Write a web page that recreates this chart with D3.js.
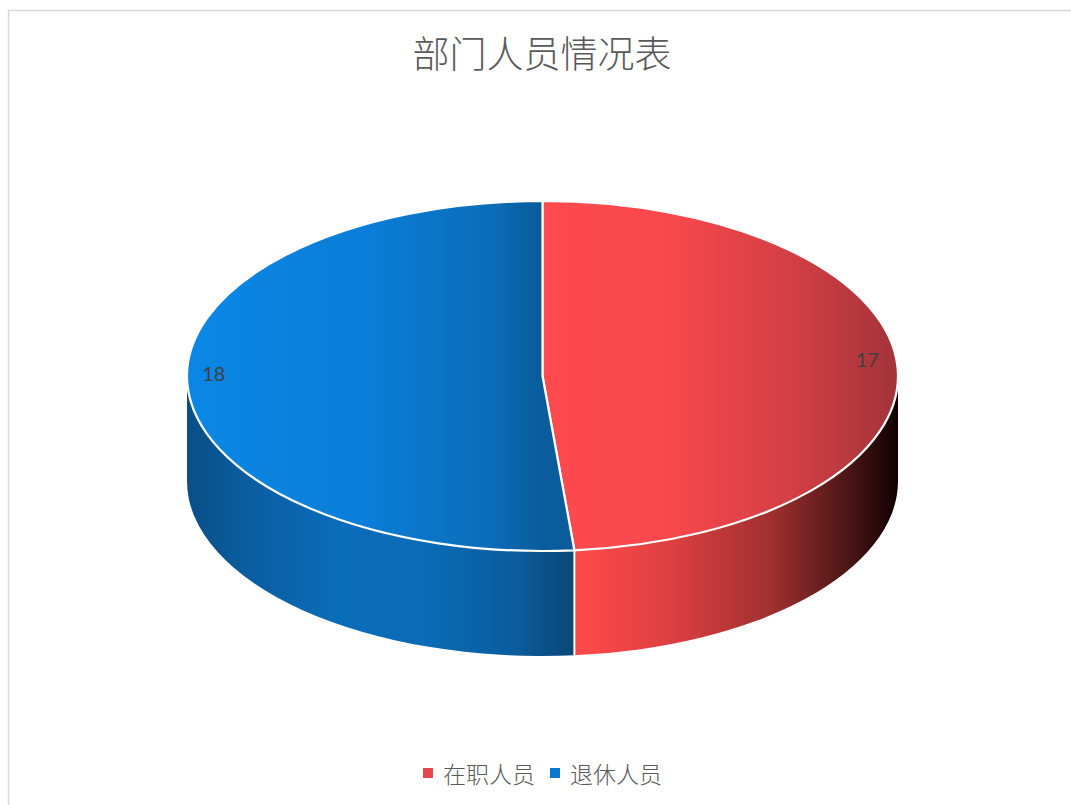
<!DOCTYPE html>
<html>
<head>
<meta charset="utf-8">
<script src="https://cdn.jsdelivr.net/npm/d3@7"></script>
<style>
  html, body { margin: 0; padding: 0; background: #fff; }
  svg { display: block; }
</style>
</head>
<body>
<svg id="chart" width="1071" height="805"></svg>
<script>
// Department staff breakdown
const categories = ["在职人员", "退休人员"];
const values = [17, 18];
const title = "部门人员情况表";

const W = 1071, H = 805;
const svg = d3.select("#chart");

// outer chart frame
svg.append("rect")
  .attr("x", 8.5).attr("y", 10.5)
  .attr("width", W + 20).attr("height", H + 20)
  .attr("fill", "#fff")
  .attr("stroke", "#d9d9d9").attr("stroke-width", 1.5);

// title
svg.append("text")
  .attr("x", 542).attr("y", 52)
  .attr("text-anchor", "middle").attr("dominant-baseline", "central")
  .attr("font-family", "'Noto Sans CJK SC', sans-serif")
  .attr("font-size", 37).attr("font-weight", 300)
  .attr("fill", "#595959")
  .text(title);

// pie geometry (tilted ellipse with a visible rim)
const cx = 542.5, cy = 376, rx = 355.5, ry = 175, depth = 105;
const pt = (a, dy = 0) => [cx + rx * Math.sin(a), cy - ry * Math.cos(a) + dy];

const pie = d3.pie().sort(null).value(d => d.v);
const arcs = pie(categories.map((c, i) => ({ c, v: values[i] })));

// gradients
const defs = svg.append("defs");
function grad(id, x1, x2, stops) {
  const g = defs.append("linearGradient").attr("id", id)
    .attr("gradientUnits", "userSpaceOnUse")
    .attr("x1", x1).attr("x2", x2).attr("y1", 0).attr("y2", 0);
  stops.forEach(([o, c]) => g.append("stop").attr("offset", o).attr("stop-color", c));
}
grad("topRed", 542, 898, [[0, "#FF4A4E"], [0.35, "#F9484C"], [0.7, "#D23F44"], [1, "#A3333A"]]);
grad("sideRed", 576, 898, [[0, "#FF4A4A"], [0.3, "#DC3F40"], [0.6, "#A23030"], [0.85, "#4A1515"], [1, "#110000"]]);
grad("topBlue", 187, 542, [[0, "#0A87E5"], [0.5, "#0A7ED8"], [0.85, "#0A6DBA"], [1, "#0A5C9A"]]);
grad("sideBlue", 187, 576, [[0, "#0A4E86"], [0.15, "#0A5D9F"], [0.4, "#0A6DBA"], [0.6, "#0A6CB7"], [0.85, "#0A5C9C"], [1, "#0A4676"]]);
const topFill = ["url(#topRed)", "url(#topBlue)"];
const sideFill = ["url(#sideRed)", "url(#sideBlue)"];
const legendColor = ["#E8474B", "#0A78D0"];

// front rim of each slice (the part between 90° and 270°)
const lo = Math.PI / 2, hi = 3 * Math.PI / 2;
arcs.forEach((d, i) => {
  const a1 = Math.max(d.startAngle, lo), a2 = Math.min(d.endAngle, hi);
  if (a2 <= a1) return;
  const p1 = pt(a1), p2 = pt(a2), q2 = pt(a2, depth), q1 = pt(a1, depth);
  const large = (a2 - a1) > Math.PI ? 1 : 0;
  const path = `M${p1}A${rx},${ry} 0 ${large} 1 ${p2}L${q2}A${rx},${ry} 0 ${large} 0 ${q1}Z`;
  svg.append("path").attr("d", path).attr("fill", sideFill[i]);
});

// rim divider at slice boundaries that face the viewer
arcs.forEach(d => {
  const a = d.endAngle;
  if (a > lo && a < hi) {
    const p = pt(a), q = pt(a, depth);
    svg.append("line").attr("x1", p[0]).attr("y1", p[1]).attr("x2", q[0]).attr("y2", q[1])
      .attr("stroke", "#fff").attr("stroke-width", 2);
  }
});

// top faces
arcs.forEach((d, i) => {
  const p1 = pt(d.startAngle), p2 = pt(d.endAngle);
  const large = (d.endAngle - d.startAngle) > Math.PI ? 1 : 0;
  const path = `M${cx},${cy}L${p1}A${rx},${ry} 0 ${large} 1 ${p2}Z`;
  svg.append("path").attr("d", path).attr("fill", topFill[i])
    .attr("stroke", "#fff").attr("stroke-width", 2.2).attr("stroke-linejoin", "round");
});

// data labels
arcs.forEach(d => {
  const m = (d.startAngle + d.endAngle) / 2;
  const x = cx + rx * 0.92 * Math.sin(m) - 2, y = cy - ry * 0.92 * Math.cos(m) - 10;
  svg.append("text").attr("x", x).attr("y", y)
    .attr("text-anchor", "middle").attr("dominant-baseline", "central")
    .attr("font-family", "Lato, 'Open Sans', sans-serif").attr("font-size", 20)
    .attr("fill", "#404040")
    .text(d.data.v);
});

// legend
const legendX = [423, 550], legendY = 773;
categories.forEach((c, i) => {
  svg.append("rect").attr("x", legendX[i]).attr("y", legendY - 5)
    .attr("width", 10).attr("height", 10).attr("fill", legendColor[i]);
  svg.append("text").attr("x", legendX[i] + 20).attr("y", legendY)
    .attr("dominant-baseline", "central")
    .attr("font-family", "'Noto Sans CJK SC', sans-serif").attr("font-size", 23)
    .attr("font-weight", 300)
    .attr("fill", "#595959")
    .text(c);
});
</script>
</body>
</html>
